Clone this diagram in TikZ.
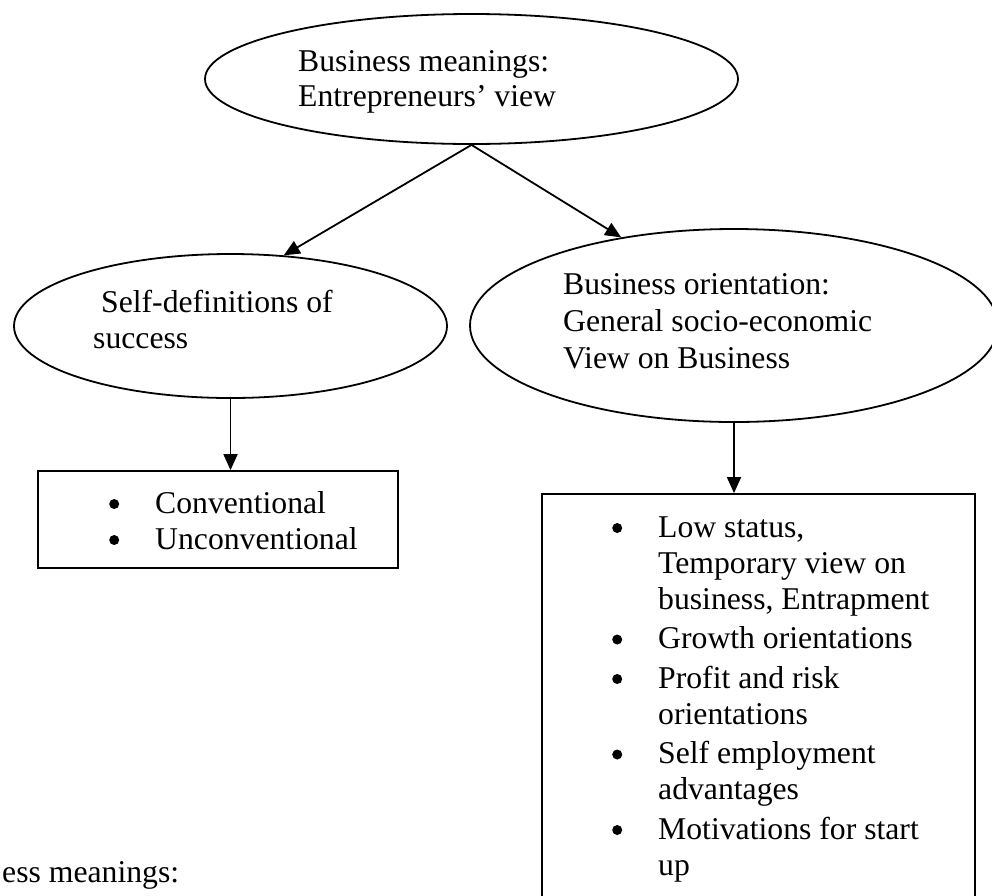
\documentclass[tikz,border=0pt]{standalone}
\usepackage{fontspec}
\setmainfont{Liberation Serif}
\usetikzlibrary{shapes.geometric,arrows.meta}

% round bullet hung to the left of a list line
\newcommand{\itembul}{\llap{\tikz[baseline=0pt]{\path[fill=black,draw=none] (0pt,9pt) circle[radius=5pt];}\hspace{36pt}}}

\begin{document}
\begin{tikzpicture}[x=1pt,y=-1pt,
  bubble/.style={draw,ellipse,line width=1.8pt,inner sep=0pt},
  listbox/.style={draw,rectangle,line width=1.8pt,inner sep=0pt},
  % multi-line texts are placed by the baseline of their last line
  txt/.style={anchor=base west,inner sep=0pt,align=left,
    font=\fontsize{31.7}{36}\selectfont},
  link/.style={line width=1.8pt,-{Triangle[length=16pt,width=14pt]}}]

\useasboundingbox (0,0) rectangle (992,895);
\clip (0,0) rectangle (992,895);

% top concept
\node[bubble,minimum width=533pt,minimum height=130pt] (top) at (471.5,79) {};
\node[txt,font=\fontsize{31.7}{35}\selectfont] (toptxt) at (298,106)
  {Business meanings:\\Entrepreneurs’ view};

% left branch
\node[bubble,minimum width=433pt,minimum height=144pt] (self) at (230.5,326) {};
\node[txt] (selftxt) at (93,348) {\ Self-definitions of\\success};

% right branch
\node[bubble,minimum width=528pt,minimum height=193pt] (orient) at (734,325.5) {};
\node[txt,font=\fontsize{31.7}{37}\selectfont] (orienttxt) at (563,368)
  {Business orientation:\\General socio-economic\\View on Business};

% lists
\node[listbox,minimum width=360pt,minimum height=97pt] (succbox) at (218,519.5) {};
\node[txt] (succlist) at (155,549)
  {\itembul Conventional\\\itembul Unconventional};

\node[listbox,minimum width=433pt,minimum height=416pt] (orientbox) at (758.5,702) {};
\node[txt] (orientlist) at (658,875)
  {\itembul Low status,\\Temporary view on\\business, Entrapment\\[3.5pt]
   \itembul Growth orientations\\[3.5pt]
   \itembul Profit and risk\\orientations\\[3.5pt]
   \itembul Self employment\\advantages\\[3.5pt]
   \itembul Motivations for start\\up};

% running text below
\node[txt] (tail) at (2,882) {ess meanings:};

% connectors
\draw[link] (top.south) -- (self.53.6);
\draw[link] (top.south) -- (orient.142.9);
\draw[link] (self.south) -- (self.south |- succbox.north);
\draw[link] (orient.south) -- (orient.south |- orientbox.north);

\end{tikzpicture}
\end{document}
